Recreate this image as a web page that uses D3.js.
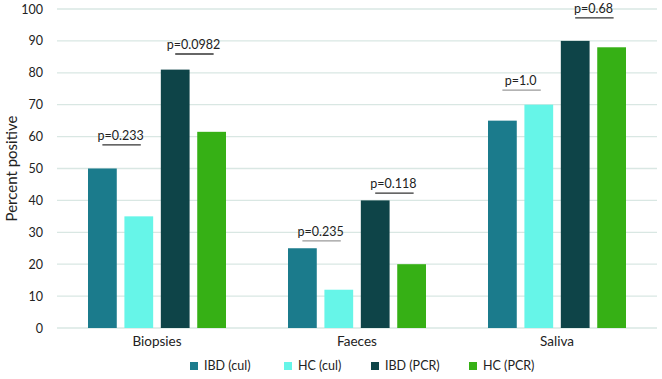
<!DOCTYPE html>
<html>
<head>
<meta charset="utf-8">
<script src="https://cdn.jsdelivr.net/npm/d3@7"></script>
<style>
  body { margin: 0; background: #fff; }
  svg { font-family: Lato, "Open Sans", sans-serif; }
</style>
</head>
<body>
<div id="chart"></div>
<script>
const categories = ["Biopsies", "Faeces", "Saliva"];
const seriesNames = ["IBD (cul)", "HC (cul)", "IBD (PCR)", "HC (PCR)"];
const ibdCul = [50, 25, 65];
const hcCul = [35, 12, 70];
const ibdPcr = [81, 40, 90];
const hcPcr = [61.5, 20, 88];
const yTicks = [0, 10, 20, 30, 40, 50, 60, 70, 80, 90, 100];

// p-value brackets: category, first bar, second bar, height of the line (percent), label
const pCats = ["Biopsies", "Biopsies", "Faeces", "Faeces", "Saliva", "Saliva"];
const pFrom = [0, 2, 0, 2, 0, 2];
const pTo = [1, 3, 1, 3, 1, 3];
const pLevel = [57.4, 85.9, 27.3, 42.3, 74.6, 97.2];
const pLabels = ["p=0.233", "p=0.0982", "p=0.235", "p=0.118", "p=1.0", "p=0.68"];

const colors = ["#1b7b8c", "#66f5e8", "#0e4448", "#36b015"];
const series = [ibdCul, hcCul, ibdPcr, hcPcr];

const width = 662, height = 379;
const margin = { top: 9, right: 5, bottom: 51, left: 57 };

const svg = d3.select("#chart").append("svg")
  .attr("width", width)
  .attr("height", height);

const x = d3.scaleBand()
  .domain(categories)
  .range([margin.left, width - margin.right]);

const xInner = d3.scaleBand()
  .domain(d3.range(seriesNames.length))
  .range([31, x.bandwidth() - 31])
  .paddingInner(0.21);

const y = d3.scaleLinear()
  .domain([0, 100])
  .range([height - margin.bottom, margin.top]);

// gridlines
svg.append("g")
  .selectAll("line")
  .data(yTicks)
  .join("line")
  .attr("x1", margin.left)
  .attr("x2", width - margin.right)
  .attr("y1", (d) => y(d))
  .attr("y2", (d) => y(d))
  .attr("stroke", "#d9e7e3")
  .attr("stroke-width", 1.3);

// y axis labels
const yAxis = svg.append("g")
  .attr("transform", `translate(${margin.left},0)`)
  .call(d3.axisLeft(y).tickValues(yTicks).tickSize(0).tickPadding(14));
yAxis.select(".domain").remove();
yAxis.selectAll("text")
  .attr("font-size", 12.5)
  .attr("fill", "#222")
  .attr("font-family", "Lato, sans-serif");

// x axis labels
const xAxis = svg.append("g")
  .attr("transform", `translate(0,${y(0)})`)
  .call(d3.axisBottom(x).tickSize(0).tickPadding(8));
xAxis.select(".domain").remove();
xAxis.selectAll("text")
  .attr("font-size", 13.5)
  .attr("fill", "#222")
  .attr("font-family", "Lato, sans-serif");

// y title
svg.append("text")
  .attr("transform", `translate(17,${(y(0) + y(100)) / 2}) rotate(-90)`)
  .attr("text-anchor", "middle")
  .attr("font-size", 15)
  .attr("fill", "#222")
  .text("Percent positive");

// bars
const groups = svg.append("g")
  .selectAll("g")
  .data(categories)
  .join("g")
  .attr("transform", (d) => `translate(${x(d)},0)`);

groups.selectAll("rect")
  .data((d, i) => series.map((s, j) => ({ j, v: s[i] })))
  .join("rect")
  .attr("x", (d) => xInner(d.j))
  .attr("width", xInner.bandwidth())
  .attr("y", (d) => y(d.v))
  .attr("height", (d) => y(0) - y(d.v))
  .attr("fill", (d) => colors[d.j]);

// p-value brackets
const lightLines = ["p=0.235", "p=1.0"];
const brackets = svg.append("g")
  .selectAll("g")
  .data(pLabels.map((label, i) => ({
    label,
    cat: pCats[i],
    a: pFrom[i],
    b: pTo[i],
    level: pLevel[i],
  })))
  .join("g");

brackets.append("line")
  .attr("x1", (d) => x(d.cat) + xInner(d.a) + xInner.bandwidth() / 2)
  .attr("x2", (d) => x(d.cat) + xInner(d.b) + xInner.bandwidth() / 2 + 2)
  .attr("y1", (d) => y(d.level))
  .attr("y2", (d) => y(d.level))
  .attr("stroke", (d) => (lightLines.includes(d.label) ? "#9a9a9a" : "#333"))
  .attr("stroke-width", 1.3);

brackets.append("text")
  .attr("x", (d) => x(d.cat) + (xInner(d.a) + xInner(d.b) + xInner.bandwidth()) / 2)
  .attr("y", (d) => y(d.level) - 5)
  .attr("text-anchor", "middle")
  .attr("font-size", 12.5)
  .attr("fill", "#222")
  .text((d) => d.label);

// legend
const legendX = [190, 284, 371, 469];
const legend = svg.append("g")
  .selectAll("g")
  .data(seriesNames)
  .join("g")
  .attr("transform", (d, i) => `translate(${legendX[i]},366)`);

legend.append("rect")
  .attr("x", 0)
  .attr("y", -4)
  .attr("width", 8)
  .attr("height", 8)
  .attr("fill", (d, i) => colors[i]);

legend.append("text")
  .attr("x", 14)
  .attr("dy", "0.35em")
  .attr("font-size", 12.5)
  .attr("fill", "#222")
  .text((d) => d);
</script>
</body>
</html>
